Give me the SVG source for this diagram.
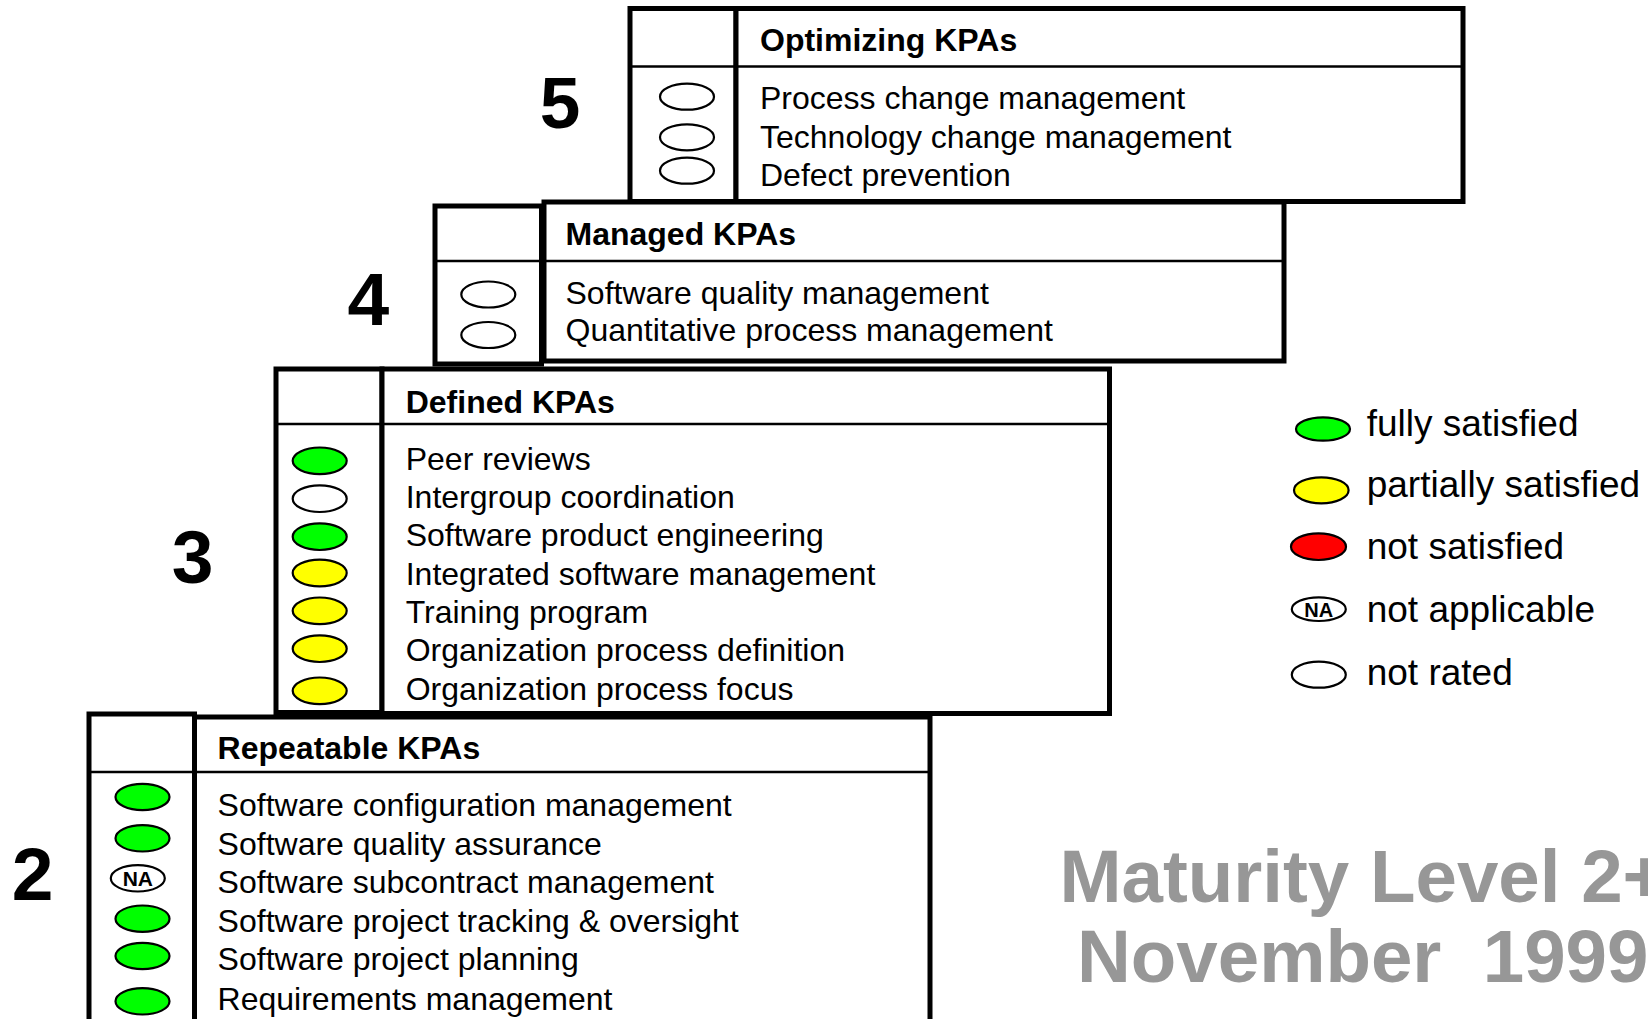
<svg xmlns="http://www.w3.org/2000/svg" width="1648" height="1019" viewBox="0 0 1648 1019">
<style>
.frame{fill:#fff;stroke:#000;stroke-width:5}
.hdr{stroke:#000;stroke-width:2.5}
.t{font-family:"Liberation Sans",Arial,sans-serif;font-size:32px;fill:#000}
.h{font-weight:bold}
.num{font-family:"Liberation Sans",Arial,sans-serif;font-weight:bold;font-size:75px;text-anchor:middle;fill:#000}
.e{stroke:#000;stroke-width:2.2}
.g{fill:#00ff00}.y{fill:#ffff00}.r{fill:#ff0000}.w{fill:#fff}
.na{font-family:"Liberation Sans",Arial,sans-serif;font-weight:bold;font-size:21px;text-anchor:middle;fill:#000}
.leg{font-family:"Liberation Sans",Arial,sans-serif;font-size:37px;fill:#000}
.wm{font-family:"Liberation Sans",Arial,sans-serif;font-weight:bold;font-size:74.5px;fill:#979797}
</style>
<rect width="1648" height="1019" fill="#fff"/>
<g id="level5">
<text class="num" x="560" y="128" style="font-size:73px">5</text>
<rect class="frame" x="630" y="8.5" width="106" height="193"/>
<rect class="frame" x="736" y="8.5" width="727" height="193"/>
<line class="hdr" x1="630" y1="66.5" x2="1463" y2="66.5"/>
<text class="t h" x="760" y="51">Optimizing KPAs</text>
<text class="t" x="760" y="109">Process change management</text>
<text class="t" x="760" y="147.5">Technology change management</text>
<text class="t" x="760" y="185.5">Defect prevention</text>
<ellipse class="e w" cx="687" cy="96.7" rx="27" ry="13"/>
<ellipse class="e w" cx="687" cy="137.3" rx="27" ry="13"/>
<ellipse class="e w" cx="687" cy="170.7" rx="27" ry="13"/>
</g>
<g id="level4">
<text class="num" x="368.3" y="325">4</text>
<rect class="frame" x="544" y="202" width="740" height="159"/>
<rect class="frame" x="435" y="206" width="106.5" height="158"/>
<line class="hdr" x1="435" y1="261" x2="1284" y2="261"/>
<text class="t h" x="565.5" y="244.5">Managed KPAs</text>
<text class="t" x="565.5" y="303.5">Software quality management</text>
<text class="t" x="565.5" y="341">Quantitative process management</text>
<ellipse class="e w" cx="488.3" cy="294.5" rx="27" ry="13"/>
<ellipse class="e w" cx="488.3" cy="335" rx="27" ry="13"/>
</g>
<g id="level3">
<text class="num" x="192.5" y="582.5">3</text>
<rect class="frame" x="276" y="369" width="106" height="343.5"/>
<rect class="frame" x="382" y="369" width="727.5" height="344.5"/>
<line class="hdr" x1="276" y1="424" x2="1109.5" y2="424"/>
<text class="t h" x="405.7" y="412.5">Defined KPAs</text>
<text class="t" x="405.7" y="470">Peer reviews</text>
<text class="t" x="405.7" y="507.5">Intergroup coordination</text>
<text class="t" x="405.7" y="546">Software product engineering</text>
<text class="t" x="405.7" y="584.5">Integrated software management</text>
<text class="t" x="405.7" y="622.5">Training program</text>
<text class="t" x="405.7" y="660.5">Organization process definition</text>
<text class="t" x="405.7" y="700">Organization process focus</text>
<ellipse class="e g" cx="319.7" cy="460.8" rx="27" ry="13.3"/>
<ellipse class="e w" cx="319.7" cy="498.7" rx="27" ry="13.3"/>
<ellipse class="e g" cx="319.7" cy="536.7" rx="27" ry="13.3"/>
<ellipse class="e y" cx="319.7" cy="573" rx="27" ry="13.3"/>
<ellipse class="e y" cx="319.7" cy="610.8" rx="27" ry="13.3"/>
<ellipse class="e y" cx="319.7" cy="648.7" rx="27" ry="13.3"/>
<ellipse class="e y" cx="319.7" cy="690.8" rx="27" ry="13.3"/>
</g>
<g id="level2">
<text class="num" x="32.5" y="900">2</text>
<rect class="frame" x="89" y="714" width="105.5" height="330"/>
<rect class="frame" x="194.5" y="717" width="735.5" height="330"/>
<line class="hdr" x1="89" y1="772" x2="930" y2="772"/>
<text class="t h" x="217.6" y="759">Repeatable KPAs</text>
<text class="t" x="217.6" y="816">Software configuration management</text>
<text class="t" x="217.6" y="854.5">Software quality assurance</text>
<text class="t" x="217.6" y="893">Software subcontract management</text>
<text class="t" x="217.6" y="931.5">Software project tracking &amp; oversight</text>
<text class="t" x="217.6" y="970">Software project planning</text>
<text class="t" x="217.6" y="1009.5">Requirements management</text>
<ellipse class="e g" cx="142.5" cy="797" rx="27" ry="13.2"/>
<ellipse class="e g" cx="142.5" cy="838.3" rx="27" ry="13.2"/>
<ellipse class="e w" cx="137.8" cy="878.3" rx="27" ry="13.2"/>
<text class="na" x="137.8" y="885.8">NA</text>
<ellipse class="e g" cx="142.5" cy="918.7" rx="27" ry="13.2"/>
<ellipse class="e g" cx="142.5" cy="956" rx="27" ry="13.2"/>
<ellipse class="e g" cx="142.5" cy="1001.3" rx="27" ry="13.2"/>
</g>
<g id="legend">
<ellipse class="e g" cx="1323" cy="429" rx="27" ry="11.7"/>
<text class="leg" x="1366.7" y="436">fully satisfied</text>
<ellipse class="e y" cx="1321.3" cy="490.3" rx="27.3" ry="13"/>
<text class="leg" x="1366.7" y="497.3">partially satisfied</text>
<ellipse class="e r" cx="1318.5" cy="546.7" rx="27.5" ry="13.3"/>
<text class="leg" x="1366.7" y="559.3">not satisfied</text>
<ellipse class="e w" cx="1318.8" cy="609.2" rx="27" ry="11.8"/>
<text class="na" x="1318.8" y="616.5" style="font-size:20px">NA</text>
<text class="leg" x="1366.7" y="621.7">not applicable</text>
<ellipse class="e w" cx="1318.8" cy="674.7" rx="27" ry="13"/>
<text class="leg" x="1366.7" y="685">not rated</text>
</g>
<g id="title">
<text class="wm" x="1059.5" y="901.5">Maturity Level 2+</text>
<text class="wm" x="1077" y="982" xml:space="preserve">November  1999</text>
</g>
<g id="connectors"/>
</svg>
